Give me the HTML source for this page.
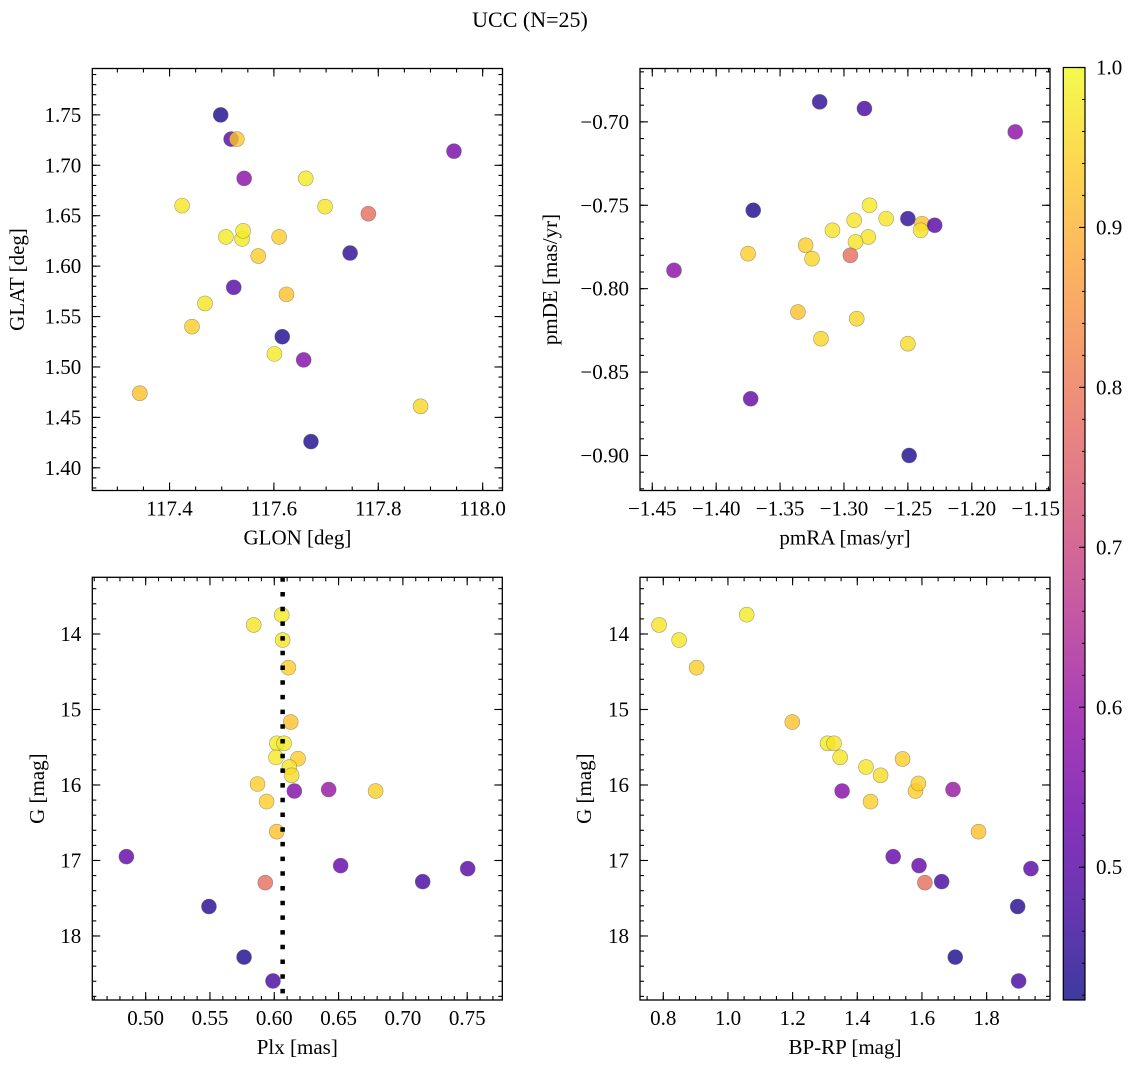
<!DOCTYPE html>
<html><head><meta charset="utf-8"><style>
html,body{margin:0;padding:0;background:#fff;}
svg{display:block;font-family:"Liberation Serif",serif;}
</style></head><body>
<svg id="fig" width="1136" height="1067" viewBox="0 0 1136 1067" xmlns="http://www.w3.org/2000/svg" font-family="'Liberation Serif',serif">
<text x="530" y="27" font-size="22" text-anchor="middle" font-family="'Liberation Serif',serif">UCC (N=25)</text>
</svg>
<script>
// ---- Panel 1: GLON / GLAT
const glon = [117.498,117.518,117.529,117.543,117.945,117.661,117.424,117.698,117.781,117.508,117.539,117.541,117.610,117.570,117.746,117.624,117.523,117.468,117.443,117.616,117.601,117.657,117.343,117.881,117.671];
const glat = [1.750,1.726,1.726,1.687,1.714,1.687,1.660,1.659,1.652,1.629,1.627,1.635,1.629,1.610,1.613,1.572,1.579,1.563,1.540,1.530,1.513,1.507,1.474,1.461,1.426];
const prob1 = [0.43,0.50,0.93,0.58,0.55,0.98,0.97,0.97,0.78,0.98,0.98,0.98,0.94,0.94,0.45,0.92,0.50,0.97,0.94,0.43,0.98,0.57,0.92,0.95,0.43];
const p1xTicks = [117.4,117.6,117.8,118.0];
const p1xLabels = ["117.4","117.6","117.8","118.0"];
const p1yTicks = [1.40,1.45,1.50,1.55,1.60,1.65,1.70,1.75];
const p1yLabels = ["1.40","1.45","1.50","1.55","1.60","1.65","1.70","1.75"];
// ---- Panel 2: pmRA / pmDE
const pmra = [-1.319,-1.284,-1.166,-1.371,-1.280,-1.292,-1.267,-1.250,-1.239,-1.229,-1.240,-1.309,-1.281,-1.291,-1.330,-1.375,-1.325,-1.295,-1.433,-1.336,-1.290,-1.318,-1.250,-1.373,-1.249];
const pmde = [-0.688,-0.692,-0.706,-0.753,-0.750,-0.759,-0.758,-0.758,-0.761,-0.762,-0.765,-0.765,-0.769,-0.772,-0.774,-0.779,-0.782,-0.780,-0.789,-0.814,-0.818,-0.830,-0.833,-0.866,-0.900];
const prob2 = [0.45,0.48,0.58,0.43,0.98,0.97,0.97,0.45,0.92,0.50,0.97,0.97,0.97,0.97,0.94,0.94,0.95,0.78,0.58,0.92,0.95,0.95,0.96,0.52,0.43];
const p2xTicks = [-1.45,-1.40,-1.35,-1.30,-1.25,-1.20,-1.15];
const p2xLabels = ["\u22121.45","\u22121.40","\u22121.35","\u22121.30","\u22121.25","\u22121.20","\u22121.15"];
const p2yTicks = [-0.90,-0.85,-0.80,-0.75,-0.70];
const p2yLabels = ["\u22120.90","\u22120.85","\u22120.80","\u22120.75","\u22120.70"];
// ---- Panel 3: Plx / G
const plx = [0.6058,0.584,0.6065,0.611,0.6128,0.602,0.6076,0.6013,0.6185,0.6117,0.6135,0.587,0.6156,0.6423,0.6788,0.594,0.6019,0.485,0.6516,0.7504,0.7154,0.593,0.5492,0.5765,0.599];
const gmag3 = [13.748,13.88,14.08,14.446,15.166,15.448,15.448,15.634,15.651,15.762,15.872,15.987,16.08,16.06,16.08,16.22,16.618,16.949,17.068,17.108,17.28,17.294,17.61,18.28,18.596];
const prob3 = [0.98,0.97,0.97,0.94,0.92,0.98,0.98,0.98,0.94,0.97,0.96,0.94,0.57,0.60,0.94,0.94,0.92,0.52,0.52,0.50,0.48,0.78,0.44,0.43,0.48];
const plxMedian = [0.6065];
const p3xTicks = [0.50,0.55,0.60,0.65,0.70,0.75];
const p3xLabels = ["0.50","0.55","0.60","0.65","0.70","0.75"];
const p3yTicks = [14,15,16,17,18];
const p3yLabels = ["14","15","16","17","18"];
// ---- Panel 4: BP-RP / G
const bprp = [0.787,0.849,0.903,1.058,1.199,1.308,1.328,1.347,1.353,1.427,1.472,1.441,1.540,1.580,1.589,1.696,1.775,1.511,1.591,1.609,1.661,1.937,1.896,1.703,1.899];
const gmag4 = [13.88,14.08,14.446,13.744,15.166,15.448,15.448,15.634,16.08,15.762,15.872,16.22,15.655,16.08,15.98,16.06,16.618,16.949,17.068,17.294,17.28,17.108,17.61,18.28,18.596];
const prob4 = [0.97,0.97,0.94,0.98,0.92,0.98,0.97,0.97,0.57,0.97,0.96,0.94,0.94,0.94,0.94,0.60,0.92,0.52,0.52,0.78,0.48,0.50,0.44,0.43,0.48];
const p4xTicks = [0.8,1.0,1.2,1.4,1.6,1.8];
const p4xLabels = ["0.8","1.0","1.2","1.4","1.6","1.8"];
const p4yTicks = [14,15,16,17,18];
const p4yLabels = ["14","15","16","17","18"];
// ---- Colorbar
const cbTicks = [0.5,0.6,0.7,0.8,0.9,1.0];
const cbLabels = ["0.5","0.6","0.7","0.8","0.9","1.0"];
const cbRange = [0.417,1.0];

const FONT = "'Liberation Serif',serif";
const FS = 21;
const NS = "http://www.w3.org/2000/svg";
const svg = document.getElementById('fig');
const plasmaStops = ["#0d0887","#41049d","#6a00a8","#8f0da4","#b12a90","#cc4778","#e16462","#f2844b","#fca636","#fcce25","#f0f921"];
function hex(h){return [parseInt(h.slice(1,3),16),parseInt(h.slice(3,5),16),parseInt(h.slice(5,7),16)];}
function plasma(t){
  t=Math.max(0,Math.min(1,t));
  const f=t*10, i=Math.min(9,Math.floor(f)), r=f-i;
  const a=hex(plasmaStops[i]), b=hex(plasmaStops[i+1]);
  return "rgb("+a.map((v,k)=>Math.round(v+(b[k]-v)*r)).join(",")+")";
}
function norm(p){return (p-cbRange[0])/(cbRange[1]-cbRange[0]);}
function mk(tag,attrs,parent){const e=document.createElementNS(NS,tag);for(const k in attrs)e.setAttribute(k,attrs[k]);(parent||svg).appendChild(e);return e;}

function panel(cfg){
  const g=mk('g',{});
  
  
  const {L,R,T,B,xd,yd}=cfg;
  const sx=v=>L+(v-xd[0])/(xd[1]-xd[0])*(R-L);
  const sy=v=>cfg.yinv ? T+(v-yd[0])/(yd[1]-yd[0])*(B-T) : B-(v-yd[0])/(yd[1]-yd[0])*(B-T);
  const pg=mk('g',{},g);
  
  
  for(let i=0;i<cfg.x.length;i++){
    const c=mk('circle',{cx:sx(cfg.x[i]),cy:sy(cfg.y[i]),r:7.5,fill:plasma(norm(cfg.p[i])),'fill-opacity':0.8,stroke:'rgba(90,90,90,0.55)','stroke-width':0.6},pg);
    
    
  }
  if(cfg.vline){
    const ln=mk('line',{x1:sx(cfg.vline[0]),x2:sx(cfg.vline[0]),y1:T,y2:B,stroke:'#000','stroke-width':4.5,'stroke-dasharray':'4.5 10.2'},g);
    
    
  }
  const fr=mk('rect',{x:L,y:T,width:R-L,height:B-T,fill:'none',stroke:'#000','stroke-width':1.3},g);
  
  
  const tk=mk('g',{stroke:'#000','stroke-width':1.1},g);
  const eps=1e-9;
  for(let v=Math.ceil(xd[0]/cfg.xm-eps)*cfg.xm; v<=xd[1]+eps; v+=cfg.xm){
    const x=sx(v); if(x<L||x>R) continue;
    mk('line',{x1:x,x2:x,y1:B,y2:B-4},tk); mk('line',{x1:x,x2:x,y1:T,y2:T+4},tk);
  }
  for(let v=Math.ceil(yd[0]/cfg.ym-eps)*cfg.ym; v<=yd[1]+eps; v+=cfg.ym){
    const y=sy(v); if(y<T||y>B) continue;
    mk('line',{x1:L,x2:L+4,y1:y,y2:y},tk); mk('line',{x1:R,x2:R-4,y1:y,y2:y},tk);
  }
  cfg.xt.forEach((v,i)=>{
    const x=sx(v);
    mk('line',{x1:x,x2:x,y1:B,y2:B-8},tk); mk('line',{x1:x,x2:x,y1:T,y2:T+8},tk);
    const t=mk('text',{x:x,y:B+25,'font-size':FS,'text-anchor':'middle','font-family':FONT},g);
    t.textContent=cfg.xl[i];
    
    
  });
  cfg.yt.forEach((v,i)=>{
    const y=sy(v);
    mk('line',{x1:L,x2:L+8,y1:y,y2:y},tk); mk('line',{x1:R,x2:R-8,y1:y,y2:y},tk);
    const t=mk('text',{x:L-11,y:y+7,'font-size':FS,'text-anchor':'end','font-family':FONT},g);
    t.textContent=cfg.yl[i];
    
    
  });
  const xt=mk('text',{x:(L+R)/2,y:B+54,'font-size':FS,'text-anchor':'middle','font-family':FONT},g);
  xt.textContent=cfg.xlabel;
  
  
  const yt=mk('text',{x:0,y:0,'font-size':FS,'text-anchor':'middle','font-family':FONT,transform:'translate('+cfg.ylx+','+(T+B)/2+') rotate(-90)'},g);
  yt.textContent=cfg.ylabel;
  
  
}

panel({name:'glon-glat-panel',L:92.3,R:502.5,T:68.5,B:490.5,xd:[117.252,118.038],yd:[1.3775,1.796],x:glon,y:glat,p:prob1,xt:p1xTicks,xl:p1xLabels,yt:p1yTicks,yl:p1yLabels,xm:0.05,ym:0.01,xlabel:'GLON [deg]',ylabel:'GLAT [deg]',ylx:24});
panel({name:'pm-panel',L:640,R:1050,T:68.5,B:490.5,xd:[-1.4596,-1.1388],yd:[-0.921,-0.668],x:pmra,y:pmde,p:prob2,xt:p2xTicks,xl:p2xLabels,yt:p2yTicks,yl:p2yLabels,xm:0.01,ym:0.01,xlabel:'pmRA [mas/yr]',ylabel:'pmDE [mas/yr]',ylx:557});
panel({name:'plx-g-panel',L:92.3,R:502.3,T:577.3,B:1000,xd:[0.4585,0.7773],yd:[13.249,18.848],yinv:true,x:plx,y:gmag3,p:prob3,xt:p3xTicks,xl:p3xLabels,yt:p3yTicks,yl:p3yLabels,xm:0.01,ym:0.2,xlabel:'Plx [mas]',ylabel:'G [mag]',ylx:44,vline:plxMedian});
panel({name:'cmd-panel',L:640,R:1050,T:577.3,B:1000,xd:[0.728,1.996],yd:[13.249,18.848],yinv:true,x:bprp,y:gmag4,p:prob4,xt:p4xTicks,xl:p4xLabels,yt:p4yTicks,yl:p4yLabels,xm:0.05,ym:0.2,xlabel:'BP-RP [mag]',ylabel:'G [mag]',ylx:591});

(function(){
  const L=1063.3,R=1085,T=67.5,B=1000;
  const g=mk('g',{});
  
  
  const defs=mk('defs',{},g);
  const lg=mk('linearGradient',{id:'cbg',x1:0,y1:1,x2:0,y2:0},defs);
  for(let i=0;i<=20;i++){mk('stop',{offset:i/20,'stop-color':plasma(i/20),'stop-opacity':0.8},lg);}
  const r=mk('rect',{x:L,y:T,width:R-L,height:B-T,fill:'url(#cbg)',stroke:'#000','stroke-width':1.2},g);
  
  
  const sy=v=>B-(v-cbRange[0])/(cbRange[1]-cbRange[0])*(B-T);
  for(let v=0.42; v<=1.0001; v+=0.02){const y=sy(v);mk('line',{x1:R,x2:R-3,y1:y,y2:y,stroke:'#000','stroke-width':1},g);}
  cbTicks.forEach((v,i)=>{
    const y=sy(v);
    mk('line',{x1:R,x2:R-6,y1:y,y2:y,stroke:'#000','stroke-width':1.1},g);
    const t=mk('text',{x:R+11,y:y+7,'font-size':FS,'font-family':FONT},g);
    t.textContent=cbLabels[i];
    
    
  });
})();
</script>
</body></html>
